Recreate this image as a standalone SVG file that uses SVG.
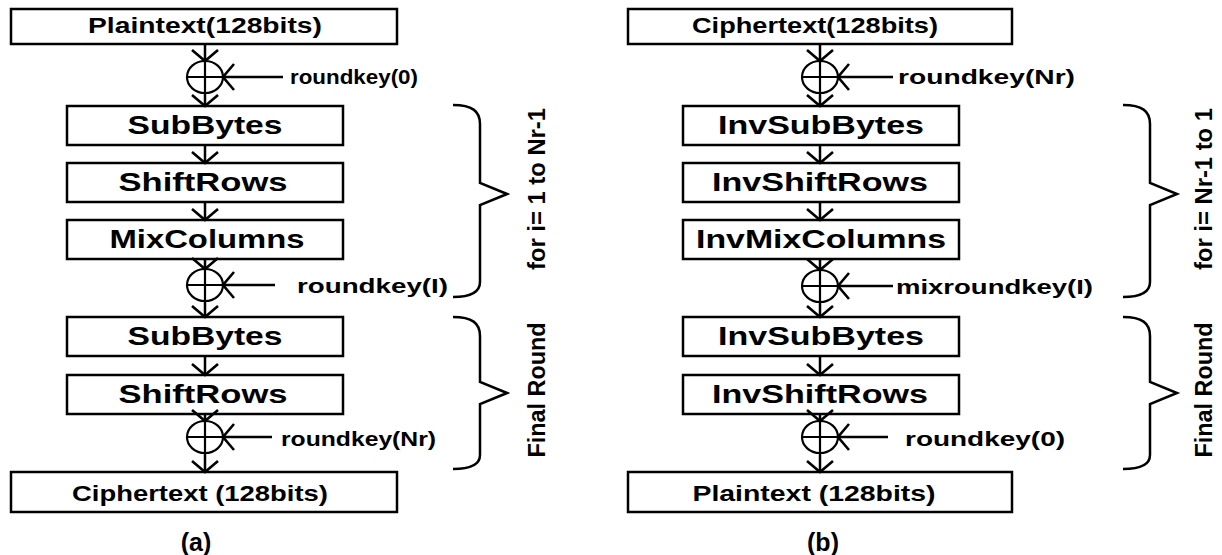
<svg xmlns="http://www.w3.org/2000/svg" width="1222" height="555" viewBox="0 0 1222 555">
  <style>
    .box { fill: #fff; stroke: #000; stroke-width: 2.5; }
    .ln { fill: none; stroke: #000; stroke-width: 2.5; }
    .xor { fill: none; stroke: #000; stroke-width: 2.2; }
    .brace { fill: none; stroke: #000; stroke-width: 2.5; stroke-linejoin: miter; }
    .lbl { font-family: "Liberation Sans", Arial, sans-serif; font-weight: bold; fill: #000; }
    .step { font-size: 25px; text-anchor: middle; }
    .io { font-size: 22px; text-anchor: middle; }
    .key { font-size: 20px; }
    .side { font-size: 24px; text-anchor: middle; }
    .cap { font-size: 25px; text-anchor: middle; }
  </style>
  <defs>
    <marker id="ah" markerUnits="userSpaceOnUse" markerWidth="20" markerHeight="34" viewBox="-16 -16 20 32" refX="0" refY="0" orient="auto">
      <path d="M-11,-13 L0,0 L-11,13" fill="none" stroke="#000" stroke-width="2.6"/>
    </marker>
  </defs>
  <rect width="1222" height="555" fill="#fff"/>

  <!-- (a) encryption -->
  <g id="a-plaintext"><rect class="box" x="11" y="9" width="386" height="35"/><text class="lbl io" x="205" y="33" textLength="234" lengthAdjust="spacingAndGlyphs">Plaintext(128bits)</text></g>
  <g id="a-xor0"><ellipse class="xor" cx="205" cy="77" rx="18" ry="16"/><line class="xor" x1="187" y1="77" x2="223" y2="77"/><line class="xor" x1="205" y1="61" x2="205" y2="93"/></g>
  <g id="a-subbytes1"><rect class="box" x="67" y="106" width="276" height="39"/><text class="lbl step" x="205" y="134" textLength="155" lengthAdjust="spacingAndGlyphs">SubBytes</text></g>
  <g id="a-shiftrows1"><rect class="box" x="67" y="163" width="276" height="39"/><text class="lbl step" x="203" y="191" textLength="169" lengthAdjust="spacingAndGlyphs">ShiftRows</text></g>
  <g id="a-mixcolumns"><rect class="box" x="67" y="220" width="276" height="39"/><text class="lbl step" x="207" y="248" textLength="195" lengthAdjust="spacingAndGlyphs">MixColumns</text></g>
  <g id="a-xor1"><ellipse class="xor" cx="205" cy="285" rx="18" ry="16"/><line class="xor" x1="187" y1="285" x2="223" y2="285"/><line class="xor" x1="205" y1="269" x2="205" y2="301"/></g>
  <g id="a-subbytes2"><rect class="box" x="67" y="317" width="276" height="39"/><text class="lbl step" x="205" y="345" textLength="155" lengthAdjust="spacingAndGlyphs">SubBytes</text></g>
  <g id="a-shiftrows2"><rect class="box" x="67" y="375" width="276" height="39"/><text class="lbl step" x="203" y="403" textLength="169" lengthAdjust="spacingAndGlyphs">ShiftRows</text></g>
  <g id="a-xor2"><ellipse class="xor" cx="205" cy="437" rx="18" ry="16"/><line class="xor" x1="187" y1="437" x2="223" y2="437"/><line class="xor" x1="205" y1="421" x2="205" y2="453"/></g>
  <g id="a-ciphertext"><rect class="box" x="11" y="472" width="386" height="40"/><text class="lbl io" x="200" y="501" textLength="256" lengthAdjust="spacingAndGlyphs">Ciphertext (128bits)</text></g>
  <g id="a-keys">
    <text class="lbl key" x="290" y="84" textLength="128" lengthAdjust="spacingAndGlyphs">roundkey(0)</text>
    <text class="lbl key" x="297" y="293" textLength="151" lengthAdjust="spacingAndGlyphs">roundkey(I)</text>
    <text class="lbl key" x="281" y="446" textLength="155" lengthAdjust="spacingAndGlyphs">roundkey(Nr)</text>
  </g>
  <g id="a-braces">
    <path class="brace" d="M453,105 C472,105 480,111 480,124 L480,183 L507,194 L480,205 L480,282 C480,292 472,297 453,297"/>
    <path class="brace" d="M453,317 C472,317 480,323 480,336 L480,382 L507,393 L480,404 L480,455 C480,464 472,469 453,469"/>
    <text class="lbl side" transform="translate(545,189) rotate(-90)" textLength="162" lengthAdjust="spacingAndGlyphs">for i= 1 to Nr-1</text>
    <text class="lbl side" transform="translate(545,390) rotate(-90)" textLength="135" lengthAdjust="spacingAndGlyphs">Final Round</text>
  </g>
  <text id="a-caption" class="lbl cap" x="196" y="551">(a)</text>

  <!-- (b) decryption -->
  <g id="b-ciphertext"><rect class="box" x="628" y="9" width="384" height="35"/><text class="lbl io" x="815" y="33" textLength="246" lengthAdjust="spacingAndGlyphs">Ciphertext(128bits)</text></g>
  <g id="b-xor0"><ellipse class="xor" cx="820" cy="77" rx="18" ry="16"/><line class="xor" x1="802" y1="77" x2="838" y2="77"/><line class="xor" x1="820" y1="61" x2="820" y2="93"/></g>
  <g id="b-invsubbytes1"><rect class="box" x="683" y="106" width="276" height="39"/><text class="lbl step" x="821" y="134" textLength="206" lengthAdjust="spacingAndGlyphs">InvSubBytes</text></g>
  <g id="b-invshiftrows1"><rect class="box" x="683" y="163" width="276" height="39"/><text class="lbl step" x="820" y="191" textLength="216" lengthAdjust="spacingAndGlyphs">InvShiftRows</text></g>
  <g id="b-invmixcolumns"><rect class="box" x="683" y="220" width="276" height="39"/><text class="lbl step" x="821" y="248" textLength="250" lengthAdjust="spacingAndGlyphs">InvMixColumns</text></g>
  <g id="b-xor1"><ellipse class="xor" cx="820" cy="286" rx="18" ry="16"/><line class="xor" x1="802" y1="286" x2="838" y2="286"/><line class="xor" x1="820" y1="270" x2="820" y2="302"/></g>
  <g id="b-invsubbytes2"><rect class="box" x="683" y="317" width="276" height="39"/><text class="lbl step" x="821" y="345" textLength="206" lengthAdjust="spacingAndGlyphs">InvSubBytes</text></g>
  <g id="b-invshiftrows2"><rect class="box" x="683" y="375" width="276" height="39"/><text class="lbl step" x="820" y="403" textLength="216" lengthAdjust="spacingAndGlyphs">InvShiftRows</text></g>
  <g id="b-xor2"><ellipse class="xor" cx="820" cy="437" rx="18" ry="16"/><line class="xor" x1="802" y1="437" x2="838" y2="437"/><line class="xor" x1="820" y1="421" x2="820" y2="453"/></g>
  <g id="b-plaintext"><rect class="box" x="628" y="472" width="384" height="40"/><text class="lbl io" x="814" y="501" textLength="243" lengthAdjust="spacingAndGlyphs">Plaintext (128bits)</text></g>
  <g id="b-keys">
    <text class="lbl key" x="898" y="84" textLength="177" lengthAdjust="spacingAndGlyphs">roundkey(Nr)</text>
    <text class="lbl key" x="896" y="294" textLength="197" lengthAdjust="spacingAndGlyphs">mixroundkey(I)</text>
    <text class="lbl key" x="905" y="446" textLength="160" lengthAdjust="spacingAndGlyphs">roundkey(0)</text>
  </g>
  <g id="b-braces">
    <path class="brace" d="M1123,105 C1142,105 1150,111 1150,124 L1150,183 L1177,194 L1150,205 L1150,282 C1150,292 1142,297 1123,297"/>
    <path class="brace" d="M1123,317 C1142,317 1150,323 1150,336 L1150,382 L1177,393 L1150,404 L1150,455 C1150,464 1142,469 1123,469"/>
    <text class="lbl side" transform="translate(1212,189) rotate(-90)" textLength="162" lengthAdjust="spacingAndGlyphs">for i= Nr-1 to 1</text>
    <text class="lbl side" transform="translate(1212,390) rotate(-90)" textLength="135" lengthAdjust="spacingAndGlyphs">Final Round</text>
  </g>
  <text id="b-caption" class="lbl cap" x="823" y="551">(b)</text>

  <!-- flow connectors -->
  <g id="connectors">
    <line class="ln" x1="205" y1="44" x2="205" y2="61" marker-end="url(#ah)"/>
    <line class="ln" x1="205" y1="93" x2="205" y2="106" marker-end="url(#ah)"/>
    <line class="ln" x1="283" y1="77" x2="223" y2="77" marker-end="url(#ah)"/>
    <line class="ln" x1="205" y1="145" x2="205" y2="163" marker-end="url(#ah)"/>
    <line class="ln" x1="205" y1="202" x2="205" y2="220" marker-end="url(#ah)"/>
    <line class="ln" x1="205" y1="259" x2="205" y2="269" marker-end="url(#ah)"/>
    <line class="ln" x1="205" y1="301" x2="205" y2="317" marker-end="url(#ah)"/>
    <line class="ln" x1="275" y1="285" x2="223" y2="285" marker-end="url(#ah)"/>
    <line class="ln" x1="205" y1="356" x2="205" y2="375" marker-end="url(#ah)"/>
    <line class="ln" x1="205" y1="414" x2="205" y2="421" marker-end="url(#ah)"/>
    <line class="ln" x1="205" y1="453" x2="205" y2="472" marker-end="url(#ah)"/>
    <line class="ln" x1="272" y1="437" x2="223" y2="437" marker-end="url(#ah)"/>

    <line class="ln" x1="820" y1="44" x2="820" y2="61" marker-end="url(#ah)"/>
    <line class="ln" x1="820" y1="93" x2="820" y2="106" marker-end="url(#ah)"/>
    <line class="ln" x1="893" y1="77" x2="838" y2="77" marker-end="url(#ah)"/>
    <line class="ln" x1="820" y1="145" x2="820" y2="163" marker-end="url(#ah)"/>
    <line class="ln" x1="820" y1="202" x2="820" y2="220" marker-end="url(#ah)"/>
    <line class="ln" x1="820" y1="259" x2="820" y2="270" marker-end="url(#ah)"/>
    <line class="ln" x1="820" y1="302" x2="820" y2="317" marker-end="url(#ah)"/>
    <line class="ln" x1="893" y1="286" x2="838" y2="286" marker-end="url(#ah)"/>
    <line class="ln" x1="820" y1="356" x2="820" y2="375" marker-end="url(#ah)"/>
    <line class="ln" x1="820" y1="414" x2="820" y2="421" marker-end="url(#ah)"/>
    <line class="ln" x1="820" y1="453" x2="820" y2="472" marker-end="url(#ah)"/>
    <line class="ln" x1="888" y1="437" x2="838" y2="437" marker-end="url(#ah)"/>
  </g>
</svg>
